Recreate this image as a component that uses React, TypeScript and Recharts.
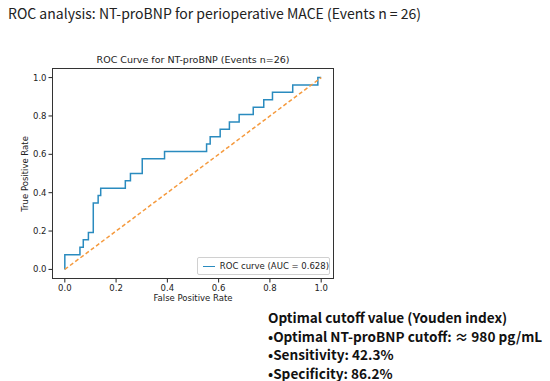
import React from 'react';
import { LineChart, Line, XAxis, YAxis } from 'recharts';

// ROC step corners
const fpr = [
  0, 0, 0.059, 0.059, 0.072, 0.072, 0.092, 0.092, 0.111, 0.111, 0.13, 0.13, 0.14, 0.14,
  0.236, 0.236, 0.256, 0.256, 0.302, 0.302, 0.389, 0.389, 0.553, 0.553, 0.567, 0.567,
  0.606, 0.606, 0.642, 0.642, 0.68, 0.68, 0.735, 0.735, 0.776, 0.776, 0.81, 0.81,
  0.889, 0.889, 0.987, 0.987, 1.0,
];
const tpr = [
  0, 0.077, 0.077, 0.115, 0.115, 0.154, 0.154, 0.192, 0.192, 0.346, 0.346, 0.385, 0.385,
  0.423, 0.423, 0.462, 0.462, 0.5, 0.5, 0.577, 0.577, 0.615, 0.615, 0.654, 0.654, 0.692,
  0.692, 0.731, 0.731, 0.769, 0.769, 0.808, 0.808, 0.846, 0.846, 0.885, 0.885, 0.923,
  0.923, 0.962, 0.962, 1.0, 1.0,
];
const chanceX = [0, 1];
const chanceY = [0, 1];
const ticks = [0, 0.2, 0.4, 0.6, 0.8, 1.0];

const pageTitle = 'ROC analysis: NT-proBNP for perioperative MACE (Events n = 26)';
const plotTitle = 'ROC Curve for NT-proBNP (Events n=26)';
const legendLabel = 'ROC curve (AUC = 0.628)';
const notes = [
  'Optimal cutoff value (Youden index)',
  '\u2022Optimal NT-proBNP cutoff: \u2248 980 pg/mL',
  '\u2022Sensitivity: 42.3%',
  '\u2022Specificity: 86.2%',
];

const rocData = fpr.map((x, i) => ({ fpr: x, roc: tpr[i] }));
const chanceData = chanceX.map((x, i) => ({ fpr: x, chance: chanceY[i] }));

const BLUE = '#2a8bbf';
const ORANGE = '#f59a3e';
const mpl = 'DejaVu Sans, sans-serif';
const kr = 'Noto Sans CJK KR, Noto Sans, sans-serif';

// plot box in page pixels
const box = { left: 52, top: 68, right: 334, bottom: 279 };

export default function App() {
  const yAxisW = 30;
  const xAxisH = 20;
  return (
    <div style={{ position: 'absolute', left: 0, top: 0, width: 550, height: 381, background: '#fff' }}>
      <div style={{ position: 'absolute', left: 8, top: 3, fontFamily: kr, fontSize: 14, color: '#222', whiteSpace: 'nowrap' }}>
        {pageTitle}
      </div>
      <div style={{ position: 'absolute', left: box.left, width: box.right - box.left, top: 54, textAlign: 'center', fontFamily: mpl, fontSize: 9.5, color: '#222' }}>
        {plotTitle}
      </div>

      <LineChart
        width={550}
        height={381}
        margin={{ left: box.left - yAxisW, top: box.top, right: 550 - box.right, bottom: 381 - box.bottom - xAxisH }}
        style={{ position: 'absolute', left: 0, top: 0 }}
      >
        <XAxis
          type="number"
          dataKey="fpr"
          domain={[-0.05, 1.05]}
          ticks={ticks}
          tickFormatter={(v: number) => v.toFixed(1)}
          axisLine={false}
          tickSize={3.5}
          tick={{ fontFamily: mpl, fontSize: 8.5, fill: '#222' }}
          stroke="#222"
          height={xAxisH}
          allowDuplicatedCategory={false}
        />
        <YAxis
          type="number"
          domain={[-0.05, 1.05]}
          ticks={ticks}
          tickFormatter={(v: number) => v.toFixed(1)}
          axisLine={false}
          tickSize={3.5}
          tick={{ fontFamily: mpl, fontSize: 8.5, fill: '#222' }}
          stroke="#222"
          width={yAxisW}
        />
        <Line
          data={rocData}
          dataKey="roc"
          name={legendLabel}
          type="linear"
          stroke={BLUE}
          strokeWidth={1.5}
          dot={false}
          isAnimationActive={false}
        />
        <Line
          data={chanceData}
          dataKey="chance"
          type="linear"
          stroke={ORANGE}
          strokeWidth={1.5}
          strokeDasharray="4 2.5"
          dot={false}
          isAnimationActive={false}
        />
      </LineChart>

      <div style={{ position: 'absolute', left: box.left, top: box.top, width: box.right - box.left, height: box.bottom - box.top, border: '1px solid #333', boxSizing: 'border-box', pointerEvents: 'none' }} />

      <div style={{ position: 'absolute', left: 197, top: 257, width: 133, height: 18, boxSizing: 'border-box', border: '1px solid #d0d0d0', borderRadius: 2, background: '#fff', display: 'flex', alignItems: 'center', fontFamily: mpl, fontSize: 8.5, color: '#222' }}>
        <span style={{ display: 'inline-block', width: 18, height: 0, borderTop: `1.5px solid ${BLUE}`, margin: '0 5px 0 5px' }} />
        <span style={{ whiteSpace: 'nowrap' }}>{legendLabel}</span>
      </div>

      <div style={{ position: 'absolute', left: box.left, width: box.right - box.left, top: 293, textAlign: 'center', fontFamily: mpl, fontSize: 8.5, color: '#222' }}>
        False Positive Rate
      </div>
      <div style={{ position: 'absolute', left: 25, top: (box.top + box.bottom) / 2, transform: 'translate(-50%, -50%) rotate(-90deg)', fontFamily: mpl, fontSize: 8.5, color: '#222', whiteSpace: 'nowrap' }}>
        True Positive Rate
      </div>

      <div style={{ position: 'absolute', left: 268, top: 308, fontFamily: kr, fontWeight: 700, fontSize: 13.6, lineHeight: '18.5px', color: '#111', whiteSpace: 'nowrap' }}>
        {notes.map((n) => (
          <div key={n}>{n}</div>
        ))}
      </div>
    </div>
  );
}
